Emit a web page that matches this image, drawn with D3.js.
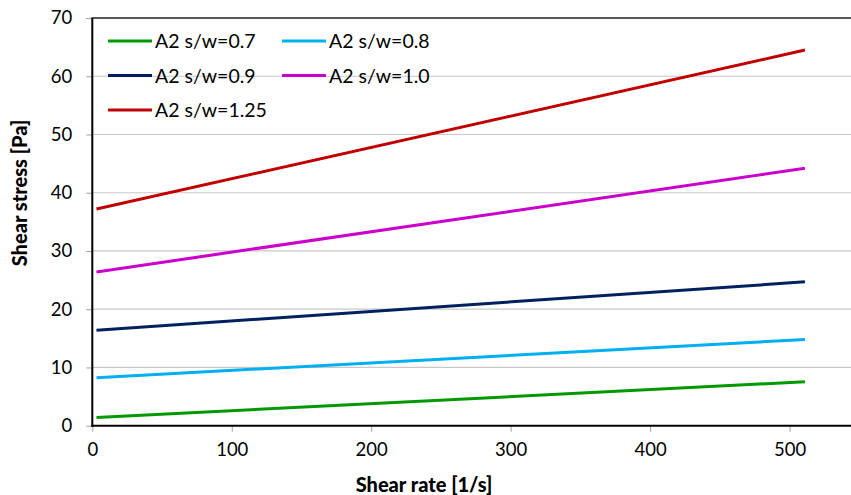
<!DOCTYPE html>
<html>
<head>
<meta charset="utf-8">
<script src="https://cdn.jsdelivr.net/npm/d3@7"></script>
<style>
  body { margin: 0; background: #fff; }
  svg { display: block; font-family: Lato, "Open Sans", sans-serif; }
</style>
</head>
<body>
<svg id="chart" width="851" height="495"></svg>
<script>
// Flow curves: shear stress vs shear rate for each s/w ratio
const seriesNames = ["A2 s/w=0.7", "A2 s/w=0.8", "A2 s/w=0.9", "A2 s/w=1.0", "A2 s/w=1.25"];
const seriesColors = ["#009900", "#00B0F0", "#002060", "#CC00CC", "#C00000"];
const shearRate = [3, 511];
const stressValues = [
  [1.4, 7.55],
  [8.25, 14.8],
  [16.4, 24.7],
  [26.4, 44.2],
  [37.2, 64.5]
];
const xTicks = [0, 100, 200, 300, 400, 500];
const yTicks = [0, 10, 20, 30, 40, 50, 60, 70];

const svg = d3.select("#chart");
const plotLeft = 92.3, plotTop = 18, plotBottom = 425.7;

const x = d3.scaleLinear().domain([0, 550]).range([plotLeft, plotLeft + 767]);
const y = d3.scaleLinear().domain([0, 70]).range([plotBottom, plotTop]);

// horizontal gridlines
svg.append("g").selectAll("line")
  .data(yTicks.filter(v => v > 0 && v < 70))
  .join("line")
  .attr("x1", plotLeft).attr("x2", 851)
  .attr("y1", d => y(d)).attr("y2", d => y(d))
  .attr("stroke", "#c8c8c8").attr("stroke-width", 1.2);

// y axis
const yAxis = svg.append("g")
  .attr("transform", `translate(${plotLeft},0)`)
  .call(d3.axisLeft(y).tickValues(yTicks).tickSize(6).tickPadding(14));
yAxis.select(".domain").remove();
yAxis.selectAll(".tick line").attr("stroke", "#a0a0a0");
yAxis.selectAll(".tick text").attr("font-size", 18.5).attr("fill", "#000").attr("font-family", "Lato");

// x axis
const xAxis = svg.append("g")
  .attr("transform", `translate(0,${plotBottom})`)
  .call(d3.axisBottom(x).tickValues(xTicks).tickSize(6).tickPadding(11));
xAxis.select(".domain").remove();
xAxis.selectAll(".tick line").attr("stroke", "#a0a0a0");
xAxis.selectAll(".tick text").attr("font-size", 18.5).attr("fill", "#000").attr("font-family", "Lato");

// frame lines: left, bottom, top
svg.append("line").attr("x1", plotLeft).attr("x2", plotLeft).attr("y1", plotTop).attr("y2", plotBottom + 1)
  .attr("stroke", "#000").attr("stroke-width", 2);
svg.append("line").attr("x1", plotLeft - 1).attr("x2", 851).attr("y1", plotBottom).attr("y2", plotBottom)
  .attr("stroke", "#000").attr("stroke-width", 2);
svg.append("line").attr("x1", plotLeft - 1).attr("x2", 851).attr("y1", plotTop).attr("y2", plotTop)
  .attr("stroke", "#222").attr("stroke-width", 1.6);

// series lines
const line = d3.line().x(d => x(d[0])).y(d => y(d[1]));
svg.append("g").selectAll("path")
  .data(stressValues)
  .join("path")
  .attr("d", vals => line(vals.map((v, i) => [shearRate[i], v])))
  .attr("fill", "none")
  .attr("stroke", (d, i) => seriesColors[i])
  .attr("stroke-width", 3);

// legend
const legend = svg.append("g");
seriesNames.forEach((name, i) => {
  const col = i % 2, row = Math.floor(i / 2);
  const lx = 108 + col * 174, ly = 41 + row * 34.5;
  legend.append("line")
    .attr("x1", lx).attr("x2", lx + 44).attr("y1", ly).attr("y2", ly)
    .attr("stroke", seriesColors[i]).attr("stroke-width", 3);
  legend.append("text")
    .attr("x", lx + 47).attr("y", ly + 7)
    .attr("font-size", 19.5).attr("fill", "#000")
    .text(name);
});

// axis titles
svg.append("text")
  .attr("x", 424).attr("y", 492)
  .attr("text-anchor", "middle")
  .attr("font-size", 20).attr("font-weight", 900)
  .text("Shear rate [1/s]");
svg.append("text")
  .attr("transform", "translate(27,193) rotate(-90)")
  .attr("text-anchor", "middle")
  .attr("font-size", 20).attr("font-weight", 900)
  .text("Shear stress [Pa]");
</script>
</body>
</html>
